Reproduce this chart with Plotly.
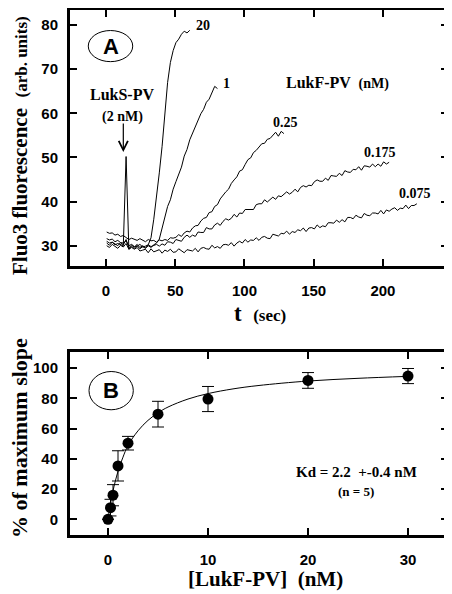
import numpy as np
import plotly.graph_objects as go

# ---------------- Panel A data (Fluo3 fluorescence traces) ----------------
SAMPLE_START = 0.5   # s
SAMPLE_STEP = 2.0    # s

trace_labels = ["20", "1", "0.25", "0.175", "0.075"]

trace_20 = [30.6, 30.1, 30.8, 30.3, 30.0, 30.7, 30.2, 31.4, 29.5, 30.1, 29.7, 30.3,
            29.6, 30.0, 29.5, 30.2, 31.8, 36.0, 41.0, 46.5, 52.5, 60.0, 67.0, 71.5,
            74.2, 76.0, 76.8, 77.9, 78.6, 78.2, 78.8]

trace_1 = [30.0, 29.6, 30.3, 29.8, 29.4, 30.1, 29.7, 30.5, 29.2, 29.8, 29.4, 30.0,
           29.3, 29.8, 29.4, 30.0, 29.6, 30.2, 30.6, 31.5, 33.8, 36.3, 38.9, 40.4,
           42.8, 44.5, 46.4, 47.8, 50.3, 51.8, 54.0, 55.4, 57.2, 58.4, 59.9, 60.9,
           62.5, 63.2, 64.8, 66.1, 65.6]

trace_025 = [33.1, 32.8, 32.9, 32.4, 32.6, 32.1, 32.3, 31.9, 31.4, 31.7, 31.5, 31.2,
             31.6, 31.3, 30.9, 31.4, 31.1, 31.2, 30.8, 31.3, 31.1, 31.4, 31.2, 31.8,
             31.7, 31.9, 32.5, 32.1, 32.9, 33.3, 33.1, 34.0, 34.5, 34.6, 35.6, 36.2,
             36.4, 37.5, 37.7, 38.9, 39.3, 40.6, 41.5, 42.2, 42.8, 44.1, 44.9, 45.6,
             46.9, 47.2, 48.4, 49.5, 49.9, 51.1, 51.6, 52.4, 53.1, 53.2, 54.1, 54.3,
             54.9, 55.7, 54.8, 55.9, 55.4]

trace_0175 = [31.6, 31.3, 31.5, 30.9, 31.2, 30.7, 30.6, 31.1, 30.0, 30.3, 29.8, 29.9,
              30.3, 29.7, 29.9, 30.2, 29.8, 30.1, 30.3, 29.9, 30.4, 30.1, 30.9, 30.8,
              30.5, 31.4, 31.2, 31.0, 31.9, 32.4, 31.9, 32.4, 32.1, 33.1, 33.0, 33.0,
              34.1, 33.8, 33.8, 34.7, 35.1, 34.6, 35.5, 36.1, 35.8, 36.2, 37.1, 36.5,
              37.4, 37.3, 38.2, 38.2, 38.1, 38.2, 39.3, 39.5, 39.5, 40.4, 39.9, 40.4,
              41.0, 40.5, 41.3, 41.1, 41.6, 42.2, 41.7, 42.1, 42.8, 42.2, 43.2, 43.6,
              43.3, 43.7, 43.6, 44.5, 44.9, 44.6, 44.6, 45.3, 44.8, 45.9, 45.8, 45.7,
              46.4, 45.9, 47.0, 46.7, 46.6, 47.3, 47.2, 47.9, 47.1, 48.1, 48.0, 47.8,
              48.5, 47.9, 48.5, 48.0, 49.0, 48.5, 48.9]

trace_0075 = [31.0, 30.6, 30.8, 30.2, 30.5, 30.3, 30.0, 50.2, 29.2, 29.6, 29.2, 29.6,
              28.8, 29.0, 29.2, 28.4, 29.3, 28.6, 28.9, 29.1, 28.3, 29.0, 28.7, 29.2,
              28.5, 28.6, 29.3, 28.8, 28.4, 29.1, 29.0, 28.8, 29.4, 28.6, 29.4, 29.6,
              29.3, 29.2, 30.1, 29.5, 29.8, 29.4, 30.2, 30.3, 30.1, 30.7, 29.9, 30.6,
              31.0, 30.6, 31.4, 30.8, 31.3, 31.2, 31.8, 31.2, 31.9, 32.1, 31.7, 31.6,
              32.6, 32.4, 32.2, 32.8, 32.7, 33.3, 32.6, 33.2, 33.0, 33.6, 33.4, 34.0,
              33.2, 34.0, 34.1, 33.8, 34.7, 34.1, 34.5, 34.3, 35.2, 35.2, 35.1, 35.8,
              35.3, 35.9, 35.4, 36.4, 36.4, 36.1, 36.9, 36.5, 36.3, 37.3, 36.9, 36.8,
              37.4, 37.4, 37.2, 38.0, 37.2, 38.1, 37.8, 38.3, 38.6, 38.0, 38.5, 38.4,
              39.2, 38.4, 39.1, 39.1, 39.5]

traces = [trace_20, trace_1, trace_025, trace_0175, trace_0075]

# label anchor positions (data units) for each trace label
label_t = [70, 86.7, 129.3, 198, 223.3]
label_v = [79.9, 66.8, 57.9, 51.1, 41.8]

# ---------------- Panel B data (% of maximum slope) ----------------
lukf_conc = [0, 0.25, 0.5, 1, 2, 5, 10, 20, 30]
pct_slope = [0, 7.7, 15.9, 35.3, 50.3, 69.5, 79.5, 91.8, 94.7]
pct_err = [0, 5.5, 7.0, 10.0, 4.5, 8.5, 8.3, 5.2, 5.0]

fit_x = [0, 0.25, 0.5, 1, 1.5, 2, 3, 4, 5, 6, 8, 10, 12.5, 15, 20, 25, 30]
fit_y = [0, 10.3, 18.8, 31.7, 41.1, 48.8, 58.5, 65.4, 70.4, 74.2, 79.5, 83.1, 86.2,
         88.4, 91.4, 93.2, 94.5]

# ---------------- Figure ----------------
# the page body adds an 8px offset; the figure is sized to fill the rest
OFF = 8
W, H = 452 - OFF, 594 - OFF
ML, MR, MT, MB = 62, 4, 2, 59
PW, PH = W - ML - MR, H - MT - MB

def px2paper(px, py):
    """page pixel -> paper coords"""
    return (px - OFF - ML) / PW, (H - MB - (py - OFF)) / PH

fig = go.Figure()

for vals in traces:
    t = SAMPLE_START + SAMPLE_STEP * np.arange(len(vals))
    fig.add_trace(go.Scatter(x=t, y=vals, mode="lines",
                             line=dict(color="black", width=1),
                             xaxis="x", yaxis="y", showlegend=False,
                             hoverinfo="skip"))

fig.add_trace(go.Scatter(x=fit_x, y=fit_y, mode="lines",
                         line=dict(color="black", width=1, shape="spline"),
                         xaxis="x2", yaxis="y2", showlegend=False))
fig.add_trace(go.Scatter(x=lukf_conc, y=pct_slope, mode="markers",
                         marker=dict(color="black", size=11),
                         error_y=dict(type="data", array=pct_err, visible=True,
                                      color="black", thickness=1, width=6),
                         xaxis="x2", yaxis="y2", showlegend=False))

tickfont = dict(family="Liberation Sans", size=15, color="black", weight="bold")
axcommon = dict(showline=True, linewidth=3, linecolor="black", mirror="allticks",
                ticks="inside", ticklen=7, tickwidth=1.5, tickcolor="black",
                showgrid=False, zeroline=False, tickfont=tickfont, automargin=False)

domA = [px2paper(0, 266)[1], 1.0]
domB = [0.0, px2paper(0, 352)[1]]

fig.update_layout(
    width=W, height=H, margin=dict(l=ML, r=MR, t=MT, b=MB),
    paper_bgcolor="white", plot_bgcolor="white",
    xaxis=dict(domain=[0, 1], range=[-26, 247], tickvals=[0, 50, 100, 150, 200],
               anchor="y", ticklabelstandoff=9, **axcommon),
    yaxis=dict(domain=domA, range=[25.4, 83.4], tickvals=[30, 40, 50, 60, 70, 80],
               anchor="x", ticklabelstandoff=6, **axcommon),
    xaxis2=dict(domain=[0, 1], range=[-3.8, 34], tickvals=[0, 10, 20, 30],
                anchor="y2", ticklabelstandoff=9, **axcommon),
    yaxis2=dict(domain=domB, range=[-10.4, 110.6], tickvals=[0, 20, 40, 60, 80, 100],
                anchor="x2", ticklabelstandoff=6, **axcommon),
)

serif = "Liberation Serif"
ann = []

def ptext(text, px, py, size, angle=0, family=serif):
    x_, y_ = px2paper(px, py)
    ann.append(dict(text=text, x=x_, y=y_, xref="paper", yref="paper",
                    xanchor="center", yanchor="middle", textangle=angle,
                    showarrow=False, font=dict(family=family, size=size, color="black")))

def dtext(text, x, y, axis, size, family=serif):
    ann.append(dict(text=text, x=x, y=y, xref="x" + axis, yref="y" + axis,
                    xanchor="center", yanchor="middle", showarrow=False,
                    font=dict(family=family, size=size, color="black")))

# axis titles
ptext("<b>Fluo3 fluorescence  <span style='font-size:17px'>(arb. units)</span></b>",
      20, 146, 21, angle=-90)
ptext("<b>t  <span style='font-size:17px'>(sec)</span></b>", 260, 313, 23)
ptext("<b>% of maximum slope</b>", 19, 438, 22, angle=-90)
ptext("<b>[LukF-PV]  (nM)</b>", 265, 579, 21)

# trace labels
for lab, lt, lv in zip(trace_labels, label_t, label_v):
    dtext(f"<b>{lab}</b>", lt, lv, "", 14)

dtext("<b>LukS-PV</b>", 11.6, 64.2, "", 16)
dtext("<b>(2 nM)</b>", 11.6, 59.2, "", 14)
dtext("<b>LukF-PV  <span style='font-size:14px'>(nM)</span></b>", 167, 66.9, "", 16)

# arrow
ann.append(dict(text="", x=12.5, y=51.2, xref="x", yref="y", showarrow=True,
                ax=0, ay=-30, arrowhead=5, arrowsize=1.5, arrowwidth=1.2,
                arrowcolor="black"))

# panel letters
dtext("<b>A</b>", 3.25, 75.2, "", 22, family="Liberation Sans")
dtext("<b>B</b>", 0.3, 85, "2", 22, family="Liberation Sans")

# Kd text
dtext("<b>Kd = 2.2  +-0.4 nM</b>", 24.8, 31.3, "2", 15)
dtext("<b>(n = 5)</b>", 24.8, 18.1, "2", 13)

fig.update_layout(annotations=ann)

fig.add_shape(type="circle", xref="x", yref="y", x0=-12.8, x1=19.3, y0=71.7, y1=78.75,
              line=dict(color="black", width=1))
fig.add_shape(type="circle", xref="x2", yref="y2", x0=-1.9, x1=2.53, y0=72.4, y1=97.7,
              line=dict(color="black", width=1))

fig.write_html("out.html")
